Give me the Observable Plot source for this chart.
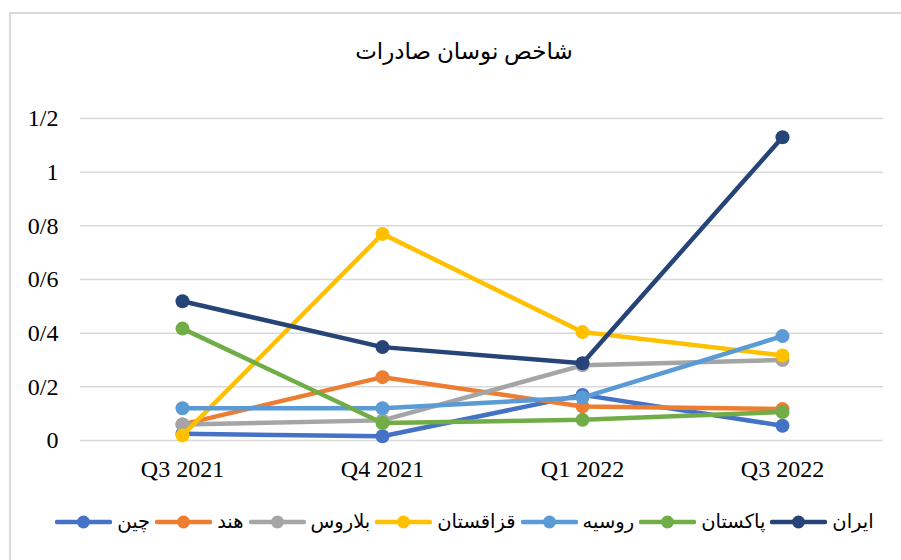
<!DOCTYPE html>
<html>
<head>
<meta charset="utf-8">
<script src="https://cdn.jsdelivr.net/npm/d3@7"></script>
<script src="https://cdn.jsdelivr.net/npm/@observablehq/plot@0.6"></script>
<style>
  html, body { margin: 0; padding: 0; background: #fff; }
  #wrap { position: relative; width: 901px; height: 560px; overflow: hidden; font-family: "Liberation Serif", "DejaVu Sans", serif; }
  #frame { position: absolute; left: 9px; top: 12px; width: 1000px; height: 1000px; border-left: 2px solid #d9d9d9; border-top: 2px solid #d9d9d9; }
  #title { position: absolute; top: 38px; left: 0; width: 928px; text-align: center; font-size: 23px; color: #000; direction: rtl; }
  #plot { position: absolute; left: 0; top: 0; }
  #legend { position: absolute; top: 510px; left: 0; width: 934px; display: flex; justify-content: center; align-items: center; font-size: 19.5px; color: #000; }
  .item { display: flex; align-items: center; margin-right: 5px; }
  .item svg { margin-right: 5px; }
  .item span { direction: rtl; }
</style>
</head>
<body>
<div id="wrap">
  <div id="frame"></div>
  <div id="title">شاخص نوسان صادرات</div>
  <div id="plot"></div>
  <div id="legend"></div>
</div>
<script>
const quarters = ["Q3 2021", "Q4 2021", "Q1 2022", "Q3 2022"];
const seriesNames = ["چین", "هند", "بلاروس", "قزاقستان", "روسیه", "پاکستان", "ایران"];
const seriesColors = ["#4472C4", "#ED7D31", "#A5A5A5", "#FFC000", "#5B9BD5", "#70AD47", "#264478"];
const china      = [0.025, 0.016, 0.17, 0.055];
const india      = [0.06, 0.236, 0.127, 0.117];
const belarus    = [0.06, 0.075, 0.28, 0.30];
const kazakhstan = [0.019, 0.77, 0.404, 0.317];
const russia     = [0.12, 0.12, 0.16, 0.389];
const pakistan   = [0.417, 0.065, 0.077, 0.106];
const iran       = [0.519, 0.348, 0.288, 1.13];
const yTicks = [0, 0.2, 0.4, 0.6, 0.8, 1, 1.2];

const seriesValues = [china, india, belarus, kazakhstan, russia, pakistan, iran];
const fmt = d => String(+d.toFixed(1)).replace(".", "/");

const marks = [
  Plot.ruleY(yTicks, {stroke: "#d9d9d9", strokeWidth: 1.5}),
  Plot.axisY({ticks: yTicks, tickSize: 0, tickPadding: 22, tickFormat: fmt, fontSize: 24, label: null}),
  Plot.axisX({tickSize: 0, tickPadding: 19, fontSize: 24, label: null})
];
seriesValues.forEach((vals, i) => {
  const data = quarters.map((q, j) => ({q, v: vals[j]}));
  marks.push(Plot.line(data, {x: "q", y: "v", stroke: seriesColors[i], strokeWidth: 4.5, curve: "linear"}));
  marks.push(Plot.dot(data, {x: "q", y: "v", r: 7, fill: seriesColors[i], stroke: "none"}));
});

const chart = Plot.plot({
  width: 901,
  height: 480,
  marginLeft: 80,
  marginRight: 18,
  marginTop: 118,
  marginBottom: 40,
  style: {fontFamily: "'Liberation Serif', serif", color: "#000", background: "transparent", overflow: "visible"},
  x: {type: "point", domain: quarters, padding: 0.5},
  y: {domain: [0, 1.2]},
  marks
});
document.getElementById("plot").appendChild(chart);

const legend = d3.select("#legend");
seriesNames.forEach((name, i) => {
  const item = legend.append("div").attr("class", "item");
  const s = item.append("svg").attr("width", 57).attr("height", 16);
  s.append("line").attr("x1", 2).attr("x2", 55).attr("y1", 8).attr("y2", 8)
    .attr("stroke", seriesColors[i]).attr("stroke-width", 4.5).attr("stroke-linecap", "round");
  s.append("circle").attr("cx", 28.5).attr("cy", 8).attr("r", 6.5).attr("fill", seriesColors[i]);
  item.append("span").text(name);
});
</script>
</body>
</html>
